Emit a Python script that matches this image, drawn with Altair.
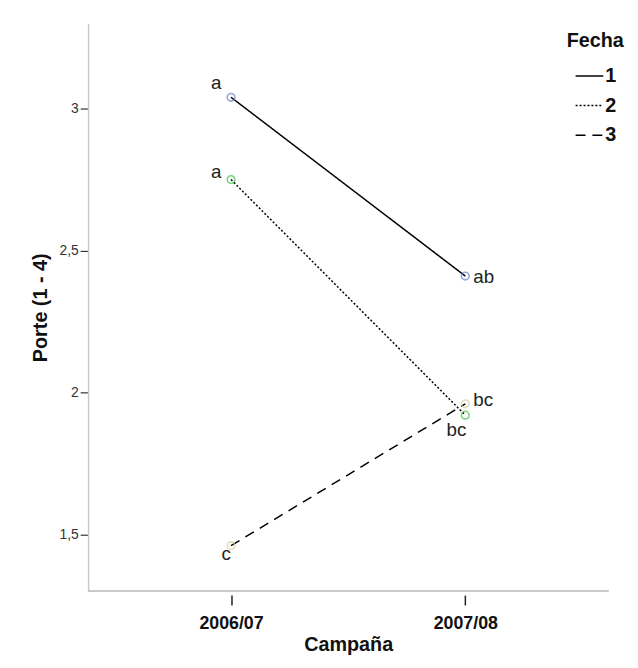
import altair as alt
import pandas as pd

campana = ["2006/07", "2007/08"]
fechas = ["1", "2", "3"]
porte_f1 = [3.04, 2.41]
porte_f2 = [2.75, 1.92]
porte_f3 = [1.46, 1.96]
letras_f1 = ["a", "ab"]
letras_f2 = ["a", "bc"]
letras_f3 = ["c", "bc"]

rows = []
for f, vals, lets in zip(fechas, [porte_f1, porte_f2, porte_f3], [letras_f1, letras_f2, letras_f3]):
    for c, v, l in zip(campana, vals, lets):
        rows.append({"Campaña": c, "Fecha": f, "Serie": "s" + f, "Porte": v, "Letra": l})
df = pd.DataFrame(rows)

FONT = "Liberation Sans"
W, H = 526, 574

x_enc = alt.X("Campaña:N", scale=alt.Scale(type="point", padding=0.61, domain=campana),
              axis=alt.Axis(title="Campaña", labelAngle=0, domain=False, offset=4, tickSize=10,
                            tickColor="#222", tickWidth=1.5, labelFontWeight="bold", labelFontSize=18,
                            labelColor="#111", labelPadding=10, titleFontSize=20, titleFontWeight="bold",
                            titleColor="#111", titlePadding=2, grid=False))
y_enc = alt.Y("Porte:Q", scale=alt.Scale(domain=[1.3, 3.3], nice=False, zero=False),
              axis=alt.Axis(title="Porte (1 - 4)", values=[1.5, 2, 2.5, 3],
                            labelExpr="replace(toString(datum.value), '.', ',')",
                            domainColor="#c8c8c8", domainWidth=1.5, tickSize=8, tickColor="#333",
                            tickWidth=1.2, labelFontSize=14, labelColor="#333", labelPadding=2,
                            titleFontSize=20, titleFontWeight="bold", titleColor="#111",
                            titlePadding=9, grid=False))

legend_def = alt.Legend(title="Fecha", symbolStrokeColor="black", symbolFillColor="transparent")

base = alt.Chart(df)

lines = base.mark_line(color="black").encode(
    x=x_enc, y=y_enc,
    strokeDash=alt.StrokeDash("Fecha:N", scale=alt.Scale(domain=fechas, range=[[1, 0], [2, 2], [10, 7]]),
                              legend=legend_def),
    strokeWidth=alt.StrokeWidth("Fecha:N", scale=alt.Scale(domain=fechas, range=[1.5, 1.5, 3]),
                                legend=legend_def),
)

points = base.mark_point(filled=False, size=60, strokeWidth=1.6).encode(
    x="Campaña:N", y="Porte:Q",
    color=alt.Color("Serie:N", scale=alt.Scale(domain=["s1", "s2", "s3"],
                                               range=["#6b7fca", "#3fbf4d", "#d8cfa0"]),
                    legend=None),
)

baseline = alt.Chart(df).mark_rule(color="#c8c8c8", strokeWidth=1.5).encode(
    x=alt.value(0), x2=alt.value(W), y=alt.value(H))

placements = [
    ("1", "2006/07", -15, -14, "center"),
    ("2", "2006/07", -15, -8, "center"),
    ("1", "2007/08", 8, 1, "left"),
    ("3", "2007/08", 8, -4, "left"),
    ("2", "2007/08", -9, 15, "center"),
    ("3", "2006/07", -5, 8, "center"),
]
texts = []
for f, c, dx, dy, al in placements:
    texts.append(
        base.transform_filter((alt.datum.Fecha == f) & (alt.datum["Campaña"] == c))
        .mark_text(dx=dx, dy=dy, align=al, baseline="middle", fontSize=19, font=FONT, color="#222")
        .encode(x="Campaña:N", y="Porte:Q", text="Letra:N")
    )

chart = alt.layer(baseline, lines, points, *texts).properties(
    width=W, height=H,
    autosize=alt.AutoSizeParams(type="none"),
    padding={"left": 81, "top": 12, "right": 22, "bottom": 66},
).configure(font=FONT).configure_view(stroke=None).configure_legend(
    orient="none", legendX=484, legendY=8, titleFontSize=20, titleFontWeight="bold",
    titleColor="#111", labelFontSize=20, labelFontWeight="bold", labelColor="#111",
    symbolType="stroke", symbolSize=784, symbolStrokeColor="black", rowPadding=5,
    labelOffset=1, symbolOffset=8, titlePadding=10,
)

chart.save("out.html", embed_options={"renderer": "svg", "actions": False})
